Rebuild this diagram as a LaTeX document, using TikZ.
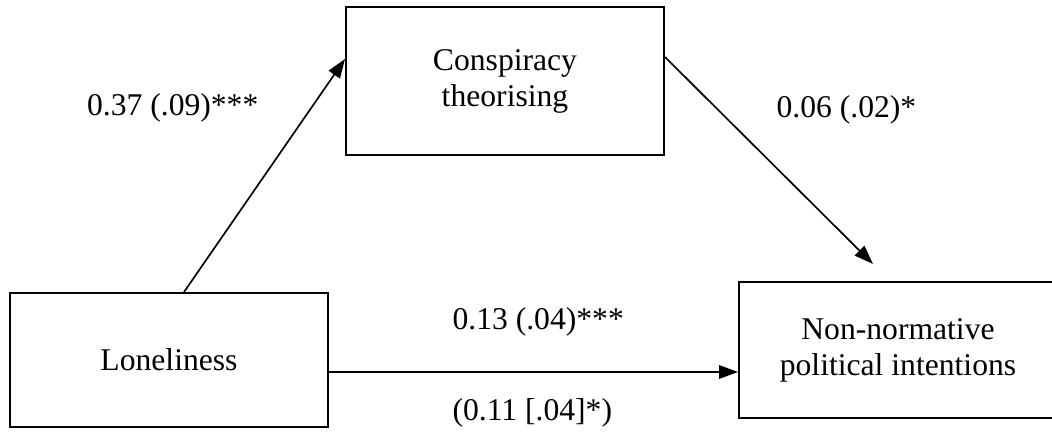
\documentclass[tikz,border=0pt]{standalone}
\usepackage{fontspec}
\setmainfont{Liberation Serif}
\usepackage{tikz}
\usetikzlibrary{arrows.meta,positioning}

\begin{document}
\begin{tikzpicture}[
  font=\fontsize{18}{20.5}\selectfont,
  box/.style={draw,line width=1.1pt,minimum width=6.36cm,align=center,inner sep=0pt},
  arr/.style={-{Triangle[length=0.38cm,width=0.27cm]},line width=0.95pt},
  lbl/.style={inner sep=0pt}
]
  \useasboundingbox (0,0) rectangle (21.04,8.68);
  \node[box,minimum height=2.68cm] (lone) at (3.38,1.48) {Loneliness};
  \node[box,minimum height=2.96cm] (consp) at (10.10,7.06) {Conspiracy\\theorising};
  \node[box,minimum height=2.72cm] (intent) at (17.96,1.68) {Non-normative\\political intentions};
  \coordinate (tip) at (17.46,3.40);
  % a, b and direct path c (total effect in brackets)
  \draw[arr] ([xshift=0.3cm]lone.north) -- node[lbl,pos=0.79,left=1.04cm] (apath) {0.37 (.09)***} ([yshift=0.44cm]consp.west);
  \draw[arr] ([yshift=0.48cm]consp.east) -- node[lbl,pos=0.256,right=1.15cm] (bpath) {0.06 (.02)*} (tip);
  \draw[arr] ([yshift=-0.24cm]lone.east) -- node[lbl,pos=0.3,anchor=west,yshift=1cm] (cpath) {0.13 (.04)***}
    node[lbl,pos=0.3,anchor=west,yshift=-0.82cm] (ctotal) {(0.11 [.04]*)} ([yshift=-0.24cm]lone.east -| intent.west);
\end{tikzpicture}
\end{document}
